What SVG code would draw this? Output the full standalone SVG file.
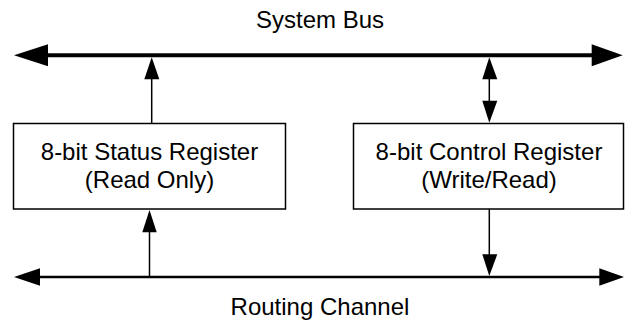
<svg xmlns="http://www.w3.org/2000/svg" width="626" height="321" viewBox="0 0 626 321">
  <style>
    .box { fill: #ffffff; stroke: #000000; stroke-width: 1.5; }
    .lbl { font-family: "Liberation Sans", Arial, sans-serif; font-size: 24px; fill: #000000; text-anchor: middle; }
    .bus { stroke: #000000; stroke-width: 4; fill: none; }
    .chan { stroke: #000000; stroke-width: 2.5; fill: none; }
    .wire { stroke: #000000; stroke-width: 1.5; fill: none; }
    .head { fill: #000000; stroke: none; }
  </style>
  <rect width="626" height="321" fill="#ffffff"/>

  <g id="connectors">
    <!-- System Bus -->
    <line class="bus" x1="46" y1="55.3" x2="594" y2="55.3"/>
    <polygon class="head" points="14,55.3 48,44.3 48,66.3"/>
    <polygon class="head" points="622.7,55.3 591.7,44.3 591.7,66.3"/>
    <!-- Routing Channel -->
    <line class="chan" x1="38" y1="277" x2="601" y2="277"/>
    <polygon class="head" points="14,277 40,268.3 40,285.7"/>
    <polygon class="head" points="624,277 599.3,268.3 599.3,285.7"/>
    <!-- Status register to System Bus -->
    <line class="wire" x1="151.7" y1="123.5" x2="151.7" y2="78"/>
    <polygon class="head" points="151.7,57.3 144.3,79.3 159.3,79.3"/>
    <!-- Routing Channel to Status register -->
    <line class="wire" x1="149.5" y1="277" x2="149.5" y2="231"/>
    <polygon class="head" points="149.5,210 142.3,232.3 156.7,232.3"/>
    <!-- Control register <-> System Bus -->
    <line class="wire" x1="489.3" y1="78" x2="489.3" y2="102"/>
    <polygon class="head" points="489.3,57.3 482.3,79.3 497.3,79.3"/>
    <polygon class="head" points="489.3,122.7 482.3,100.7 497.3,100.7"/>
    <!-- Control register to Routing Channel -->
    <line class="wire" x1="489.3" y1="209" x2="489.3" y2="256"/>
    <polygon class="head" points="489.3,276 482.3,254.3 497.3,254.3"/>
  </g>

  <g id="label-system-bus">
    <text class="lbl" x="320" y="28.3">System Bus</text>
  </g>
  <g id="label-routing-channel">
    <text class="lbl" x="320" y="315">Routing Channel</text>
  </g>

  <g id="status-register">
    <rect class="box" x="13.5" y="123.5" width="272" height="85.5"/>
    <text class="lbl" x="149.5" y="160">8-bit Status Register</text>
    <text class="lbl" x="149.5" y="188">(Read Only)</text>
  </g>

  <g id="control-register">
    <rect class="box" x="353.5" y="123.5" width="270" height="85.5"/>
    <text class="lbl" x="489" y="160">8-bit Control Register</text>
    <text class="lbl" x="489" y="188">(Write/Read)</text>
  </g>
</svg>
